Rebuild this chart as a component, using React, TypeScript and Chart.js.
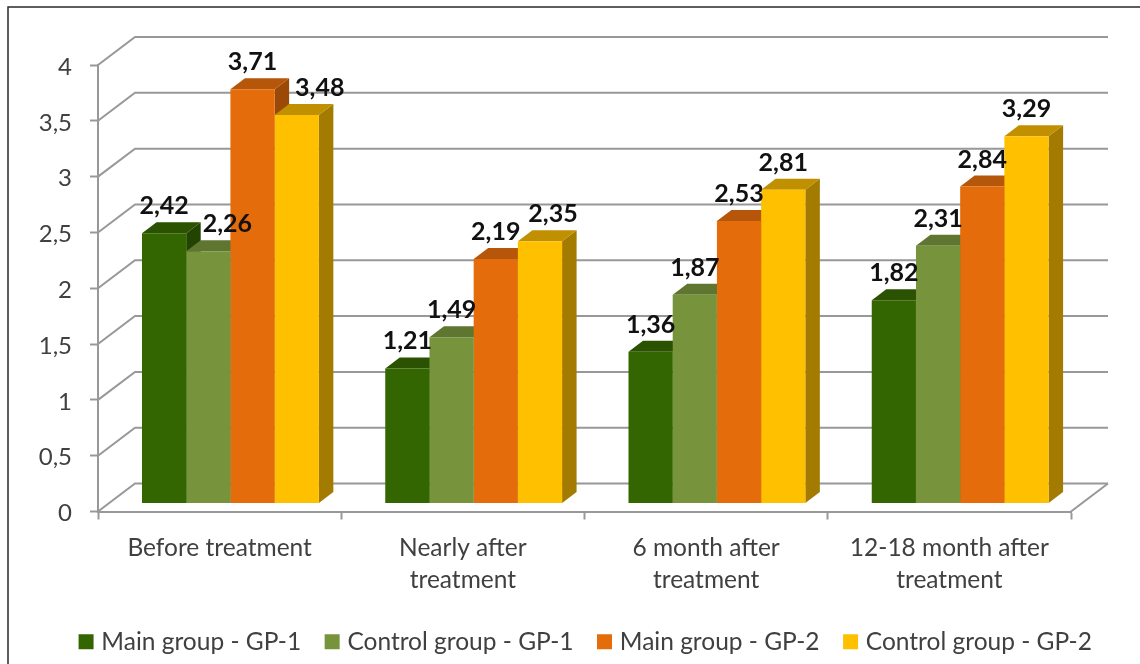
import React, { useEffect, useRef } from "react";
import { Chart, registerables } from "chart.js";

Chart.register(...registerables);

const categories: (string | string[])[] = [
  "Before treatment",
  ["Nearly after", "treatment"],
  ["6 month after", "treatment"],
  ["12-18 month after", "treatment"],
];
const mainGp1 = [2.42, 1.21, 1.36, 1.82];
const controlGp1 = [2.26, 1.49, 1.87, 2.31];
const mainGp2 = [3.71, 2.19, 2.53, 2.84];
const controlGp2 = [3.48, 2.35, 2.81, 3.29];

const seriesNames = ["Main group - GP-1", "Control group - GP-1", "Main group - GP-2", "Control group - GP-2"];
const frontColors = ["#336600", "#77933c", "#e46c0a", "#ffc000"];
const topColors = ["#2a5200", "#5f7630", "#b6560a", "#c09000"];
const sideColors = ["#224400", "#4f6328", "#9a4a06", "#a37b00"];

const labelFont = "Lato, Carlito, sans-serif";
const gridGrey = "#989898";

// wall and bar depth projection
const WALL_DX = 37;
const WALL_DY = -28;
const BAR_DX = 10.8;
const BAR_DY = -8;
const DEPTH_DX = 14.5;
const DEPTH_DY = -11;
const LEGEND_SHIFT = 52;

// sideways nudges of a few data labels, as [dataset][category]
const labelNudgeX = [
  [0, 0, 0, 0],
  [19, 0, 0, 0],
  [0, 0, 0, 0],
  [23, 13, 0, 0],
];

const scene3d = {
  id: "scene3d",
  afterLayout(chart: any) {
    chart.legend.left += LEGEND_SHIFT;
    chart.legend.right += LEGEND_SHIFT;
  },
  beforeDraw(chart: any) {
    const { ctx, chartArea: a, scales } = chart;
    const y = scales.y;
    ctx.save();
    ctx.fillStyle = "#ffffff";
    ctx.fillRect(0, 0, chart.width, chart.height);
    // frame
    ctx.strokeStyle = "#2a2a2a";
    ctx.lineWidth = 1.5;
    ctx.beginPath();
    ctx.moveTo(8, chart.height);
    ctx.lineTo(8, 7);
    ctx.lineTo(chart.width, 7);
    ctx.stroke();
    // back wall grid and left-wall diagonals
    ctx.strokeStyle = gridGrey;
    ctx.lineWidth = 2;
    y.ticks.forEach((t: any) => {
      const py = y.getPixelForValue(t.value);
      ctx.beginPath();
      ctx.moveTo(a.left, py);
      ctx.lineTo(a.left + WALL_DX, py + WALL_DY);
      ctx.lineTo(a.right + WALL_DX, py + WALL_DY);
      ctx.stroke();
    });
    // floor right edge
    ctx.beginPath();
    ctx.moveTo(a.right, a.bottom);
    ctx.lineTo(a.right + WALL_DX, a.bottom + WALL_DY);
    ctx.stroke();
    ctx.restore();
  },
  beforeDatasetsDraw(chart: any) {
    const { ctx } = chart;
    ctx.save();
    ctx.translate(BAR_DX, BAR_DY);
    const n = categories.length;
    for (let c = 0; c < n; c++) {
      for (let d = 0; d < seriesNames.length; d++) {
        const bar = chart.getDatasetMeta(d).data[c];
        const { x, y, base, width } = bar.getProps(["x", "y", "base", "width"], true);
        const l = x - width / 2;
        const r = x + width / 2;
        ctx.fillStyle = sideColors[d];
        ctx.beginPath();
        ctx.moveTo(r, y);
        ctx.lineTo(r + DEPTH_DX, y + DEPTH_DY);
        ctx.lineTo(r + DEPTH_DX, base + DEPTH_DY);
        ctx.lineTo(r, base);
        ctx.closePath();
        ctx.fill();
        ctx.fillStyle = topColors[d];
        ctx.beginPath();
        ctx.moveTo(l, y);
        ctx.lineTo(l + DEPTH_DX, y + DEPTH_DY);
        ctx.lineTo(r + DEPTH_DX, y + DEPTH_DY);
        ctx.lineTo(r, y);
        ctx.closePath();
        ctx.fill();
      }
    }
  },
  afterDatasetsDraw(chart: any) {
    const { ctx } = chart;
    ctx.restore();
    ctx.save();
    ctx.font = `bold 25px ${labelFont}`;
    ctx.fillStyle = "#111111";
    ctx.textAlign = "center";
    ctx.textBaseline = "middle";
    chart.data.datasets.forEach((ds: any, d: number) => {
      chart.getDatasetMeta(d).data.forEach((bar: any, c: number) => {
        const { x, y } = bar.getProps(["x", "y"], true);
        const text = String(ds.data[c]).replace(".", ",");
        ctx.fillText(text, x + BAR_DX + labelNudgeX[d][c], y + BAR_DY - 27);
      });
    });
    ctx.restore();
  },
};

export default function App() {
  const ref = useRef<HTMLCanvasElement>(null);
  useEffect(() => {
    const values = [mainGp1, controlGp1, mainGp2, controlGp2];
    const chart = new Chart(ref.current!, {
      type: "bar",
      data: {
        labels: categories as any,
        datasets: seriesNames.map((name, i) => ({
          label: name,
          data: values[i],
          backgroundColor: frontColors[i],
          borderWidth: 0,
          categoryPercentage: 0.727,
          barPercentage: 1,
        })),
      },
      plugins: [scene3d],
      options: {
        animation: false,
        responsive: false,
        layout: { padding: { top: 65, right: 69, left: 0, bottom: 0 } },
        plugins: {
          tooltip: { enabled: false },
          title: { display: false },
          legend: {
            position: "bottom",
            labels: {
              usePointStyle: true,
              pointStyle: "rect",
              boxWidth: 6,
              boxHeight: 15,
              padding: 28,
              color: "#404040",
              font: { family: labelFont, size: 24.5 },
            },
          },
        },
        scales: {
          x: {
            afterFit: (s: any) => {
              s.height = 90;
            },
            grid: {
              drawOnChartArea: false,
              drawTicks: true,
              tickLength: 8,
              tickWidth: 2,
              tickColor: gridGrey,
            },
            border: { color: gridGrey, width: 2 },
            ticks: {
              autoSkip: false,
              maxRotation: 0,
              minRotation: 0,
              padding: 13,
              color: "#404040",
              font: { family: labelFont, size: 24.5, lineHeight: 1.306 },
            },
          },
          y: {
            min: 0,
            max: 4,
            afterFit: (s: any) => {
              s.width = 98;
            },
            grid: {
              drawOnChartArea: false,
              drawTicks: true,
              tickLength: 8,
              tickWidth: 2,
              tickColor: gridGrey,
            },
            border: { color: gridGrey, width: 2 },
            ticks: {
              stepSize: 0.5,
              padding: 18,
              labelOffset: 2,
              color: "#404040",
              font: { family: labelFont, size: 24 },
              callback: (v: any) => String(v).replace(".", ","),
            },
          },
        },
      },
    } as any);
    return () => chart.destroy();
  }, []);
  return (
    <div style={{ position: "fixed", left: 0, top: 0, width: 1140, height: 664, background: "#fff" }}>
      <canvas ref={ref} width={1140} height={664} style={{ display: "block", filter: "blur(0.5px)" }} />
    </div>
  );
}
